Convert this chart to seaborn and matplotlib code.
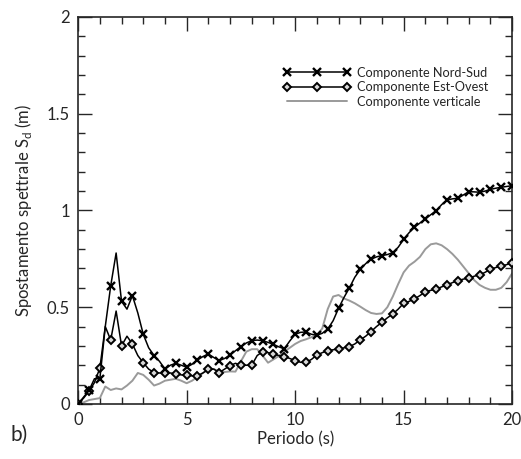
import numpy as np
import pandas as pd
import matplotlib
matplotlib.use("Agg")
import matplotlib.pyplot as plt
import seaborn as sns
from matplotlib.ticker import MultipleLocator, FormatStrFormatter

# periodo (s), passo 0.25 s; marcatori ogni 0.5 s
periodo = np.linspace(0, 20, 81)

nord_sud = [
    0.0, 0.035, 0.07, 0.13, 0.13, 0.40, 0.61, 0.78, 0.53, 0.49,
    0.56, 0.47, 0.36, 0.29, 0.25, 0.22, 0.18, 0.20, 0.21, 0.20,
    0.19, 0.205, 0.227, 0.245, 0.258, 0.24, 0.224, 0.235, 0.253, 0.275,
    0.296, 0.315, 0.327, 0.33, 0.327, 0.318, 0.308, 0.295, 0.285, 0.325,
    0.36, 0.37, 0.372, 0.36, 0.355, 0.365, 0.387, 0.43, 0.494, 0.55,
    0.60, 0.655, 0.695, 0.725, 0.748, 0.76, 0.767, 0.772, 0.782, 0.81,
    0.851, 0.885, 0.913, 0.935, 0.956, 0.978, 0.999, 1.03, 1.054, 1.06,
    1.063, 1.08, 1.097, 1.096, 1.094, 1.10, 1.109, 1.115, 1.12, 1.124,
    1.128,
]

est_ovest = [
    0.0, 0.03, 0.065, 0.11, 0.185, 0.40, 0.33, 0.48, 0.30, 0.35,
    0.31, 0.25, 0.213, 0.18, 0.162, 0.16, 0.158, 0.16, 0.155, 0.15,
    0.148, 0.145, 0.145, 0.16, 0.178, 0.18, 0.162, 0.18, 0.198, 0.21,
    0.20, 0.20, 0.20, 0.25, 0.27, 0.265, 0.258, 0.25, 0.245, 0.235,
    0.224, 0.215, 0.215, 0.23, 0.253, 0.265, 0.275, 0.28, 0.283, 0.29,
    0.296, 0.31, 0.331, 0.35, 0.374, 0.40, 0.422, 0.445, 0.465, 0.49,
    0.52, 0.53, 0.543, 0.56, 0.58, 0.587, 0.593, 0.605, 0.615, 0.627,
    0.637, 0.645, 0.65, 0.66, 0.667, 0.68, 0.696, 0.705, 0.713, 0.72,
    0.73,
]

verticale = [
    0.0, 0.008, 0.02, 0.025, 0.03, 0.09, 0.072, 0.08, 0.075, 0.095,
    0.12, 0.16, 0.15, 0.125, 0.095, 0.105, 0.12, 0.125, 0.13, 0.12,
    0.107, 0.12, 0.14, 0.16, 0.18, 0.18, 0.167, 0.165, 0.168, 0.167,
    0.22, 0.27, 0.283, 0.283, 0.25, 0.213, 0.23, 0.248, 0.27, 0.29,
    0.31, 0.325, 0.334, 0.345, 0.355, 0.39, 0.49, 0.555, 0.563, 0.545,
    0.534, 0.52, 0.503, 0.485, 0.47, 0.465, 0.468, 0.50, 0.555, 0.62,
    0.68, 0.715, 0.735, 0.76, 0.80, 0.825, 0.83, 0.82, 0.80, 0.775,
    0.745, 0.71, 0.675, 0.64, 0.615, 0.60, 0.59, 0.59, 0.60, 0.63,
    0.675,
]

df = pd.DataFrame({
    "periodo": periodo,
    "ns": nord_sud,
    "eo": est_ovest,
    "vert": verticale,
})

sns.set_style("ticks")
plt.rcParams["font.family"] = ["Lato", "DejaVu Sans"]
plt.rcParams["mathtext.fontset"] = "custom"
plt.rcParams["mathtext.rm"] = "Lato"

fig = plt.figure(figsize=(5.21, 4.59), dpi=100)
ax = fig.add_axes([0.150, 0.120, 0.833, 0.843])

sns.lineplot(data=df, x="periodo", y="vert", ax=ax, color="#9a9a9a",
             linewidth=1.4, label="Componente verticale", zorder=2)
sns.lineplot(data=df, x="periodo", y="eo", ax=ax, color="black",
             linewidth=1.1, marker="D", markersize=4.2, markerfacecolor="#d8d8d8",
             markeredgecolor="black", markeredgewidth=1.4, markevery=2,
             label="Componente Est-Ovest", zorder=3)
sns.lineplot(data=df, x="periodo", y="ns", ax=ax, color="black",
             linewidth=1.1, marker="x", markersize=5.6, markeredgewidth=1.7,
             markeredgecolor="black", markevery=2,
             label="Componente Nord-Sud", zorder=4)

ax.set_xlim(0, 20)
ax.set_ylim(0, 2)
ax.xaxis.set_major_locator(MultipleLocator(5))
ax.xaxis.set_minor_locator(MultipleLocator(1))
ax.yaxis.set_major_locator(MultipleLocator(0.5))
ax.yaxis.set_minor_locator(MultipleLocator(0.1))
ax.yaxis.set_major_formatter(FormatStrFormatter("%g"))
ax.tick_params(which="both", direction="in", top=True, right=True,
               labelsize=12, width=1.0, pad=6)
ax.tick_params(which="major", length=10)
ax.tick_params(which="minor", length=5)
for s in ax.spines.values():
    s.set_linewidth(1.2)

ax.set_xlabel("Periodo (s)", fontsize=12, labelpad=2)
ax.set_ylabel(r"Spostamento spettrale S$_\mathregular{d}$ (m)", fontsize=12,
              labelpad=9)

handles, labels = ax.get_legend_handles_labels()
order = [2, 1, 0]
ax.legend([handles[i] for i in order], [labels[i] for i in order],
          loc="upper left", bbox_to_anchor=(0.46, 0.885), frameon=False,
          fontsize=9.2, numpoints=3, handlelength=5.3, handletextpad=0.5,
          labelspacing=0.2, borderaxespad=0)

fig.text(0.02, 0.04, "b)", fontsize=15)

fig.savefig("out.png", dpi=100)
